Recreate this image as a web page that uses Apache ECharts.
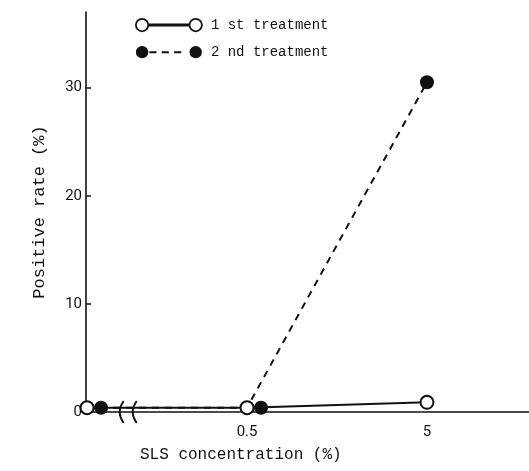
<!DOCTYPE html>
<html>
<head>
<meta charset="utf-8">
<script src="https://cdn.jsdelivr.net/npm/echarts@6/dist/echarts.min.js"></script>
<style>
  html, body { margin: 0; padding: 0; background: #fff; }
  #chart { width: 529px; height: 471px; }
</style>
</head>
<body>
<div id="chart"></div>
<script>
  // data
  var concentrations = [0, 0.5, 5]            // SLS concentration (%)
  var firstTreatment = [0.4, 0.4, 0.9]        // positive rate (%)
  var secondTreatment = [0.4, 0.4, 30.5]
  var xTickLabels = ['0.5', '5']
  var yTickValues = [0, 10, 20, 30]

  // x axis is log10 of the concentration, 0 is put in front of a break
  var ZERO_POS = -1.19
  var BREAK_POS = -0.97
  function xPos (c) {
    return c === 0 ? ZERO_POS : Math.log10(c)
  }

  var INK = '#111'
  var MONO = '"Liberation Mono", monospace'

  var firstData = concentrations.map(function (c, i) { return [xPos(c), firstTreatment[i]] })
  var secondData = concentrations.map(function (c, i) {
    var item = { value: [xPos(c), secondTreatment[i]] }
    // filled dots were drawn beside the open ones where they overlap
    if (c < 1) item.symbolOffset = [14, 0]
    return item
  })

  var iconOpen = 'path://M1,7 A6,6 0 1,1 13,7 A6,6 0 1,1 1,7 Z M53,7 A6,6 0 1,1 65,7 A6,6 0 1,1 53,7 Z M13,6.4 L53,6.4 L53,7.6 L13,7.6 Z'
  var iconFilled = 'path://M1,7 A6,6 0 1,1 13,7 A6,6 0 1,1 1,7 Z M53,7 A6,6 0 1,1 65,7 A6,6 0 1,1 53,7 Z M14,6 L21,6 L21,8 L14,8 Z M26,6 L33,6 L33,8 L26,8 Z M38,6 L45,6 L45,8 L38,8 Z'

  var chart = echarts.init(document.getElementById('chart'))
  var option = {
    backgroundColor: '#fff',
    animation: false,
    grid: { left: 86, top: 12, right: 0, bottom: 59, containLabel: false },
    legend: {
      orient: 'vertical',
      left: 130,
      top: 13,
      itemWidth: 66,
      itemHeight: 14,
      itemGap: 13,
      textStyle: { fontFamily: MONO, fontSize: 14, color: INK, padding: [0, 0, 0, 4] },
      data: [
        { name: '1 st treatment', icon: iconOpen, itemStyle: { color: '#fff', borderColor: INK, borderWidth: 1.8 } },
        { name: '2 nd treatment', icon: iconFilled, itemStyle: { color: INK, borderWidth: 0 } }
      ]
    },
    xAxis: {
      type: 'value',
      min: ZERO_POS - 0.006,
      max: 1.266,
      splitLine: { show: false },
      axisLine: { onZero: false, lineStyle: { color: INK, width: 1.6 } },
      axisTick: { show: false },
      axisLabel: {
        customValues: [Math.log10(0.5), Math.log10(5)],
        formatter: function (v) {
          return Math.abs(v - Math.log10(0.5)) < 1e-6 ? xTickLabels[0] : xTickLabels[1]
        },
        margin: 13,
        fontFamily: 'Roboto, sans-serif',
        fontSize: 15,
        color: INK
      }
    },
    yAxis: {
      type: 'value',
      min: 0,
      max: 37,
      interval: 10,
      name: 'Positive rate (%)',
      nameLocation: 'middle',
      nameGap: 38,
      nameTextStyle: { fontFamily: MONO, fontSize: 17, color: INK },
      splitLine: { show: false },
      axisLine: { show: true, onZero: false, lineStyle: { color: INK, width: 1.6 } },
      axisTick: { show: true, inside: true, length: 5, customValues: [10, 20, 30], lineStyle: { color: INK, width: 1.5 } },
      axisLabel: {
        customValues: yTickValues,
        margin: 4,
        fontFamily: 'Roboto, sans-serif',
        fontSize: 15,
        color: INK
      }
    },
    series: [
      {
        name: '1 st treatment',
        type: 'line',
        data: firstData,
        symbol: 'circle',
        symbolSize: 13,
        z: 3,
        lineStyle: { color: INK, width: 2, type: 'solid' },
        itemStyle: { color: '#fff', borderColor: INK, borderWidth: 2 }
      },
      {
        name: '2 nd treatment',
        type: 'line',
        data: secondData,
        symbol: 'circle',
        symbolSize: 14,
        z: 2,
        lineStyle: { color: INK, width: 2, type: [7, 6] },
        itemStyle: { color: INK, borderColor: INK, borderWidth: 0 }
      }
    ]
  }
  chart.setOption(option)

  // axis break marks and the x axis title
  var bx = chart.convertToPixel({ xAxisIndex: 0 }, BREAK_POS)
  var by = chart.convertToPixel({ yAxisIndex: 0 }, 0)
  function breakMark (x) {
    return {
      type: 'bezierCurve',
      shape: { x1: x + 3, y1: by - 11, x2: x + 3, y2: by + 11, cpx1: x - 5, cpy1: by },
      style: { stroke: INK, lineWidth: 1.8, fill: null },
      z: 10
    }
  }
  chart.setOption({
    graphic: [
      breakMark(bx - 6),
      breakMark(bx + 7),
      {
        type: 'text',
        left: 140,
        top: 447,
        style: { text: 'SLS concentration (%)', fontFamily: MONO, fontSize: 16, fill: INK }
      }
    ]
  })
</script>
</body>
</html>
